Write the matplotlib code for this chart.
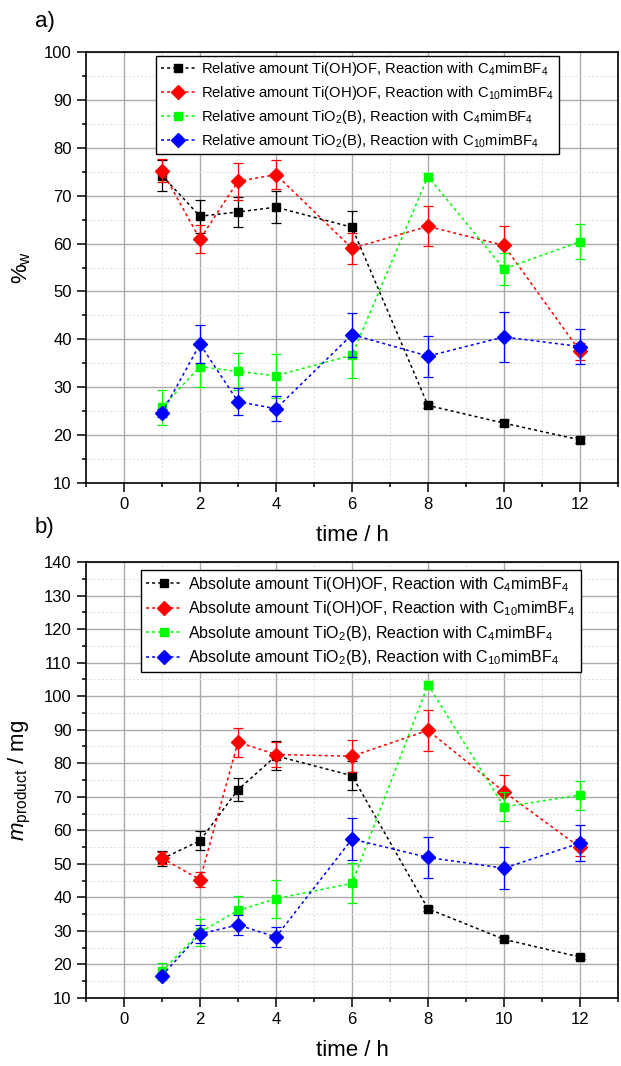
import numpy as np
import matplotlib
matplotlib.use("Agg")
import matplotlib.pyplot as plt
from matplotlib.ticker import MultipleLocator

plt.rcParams.update({"font.family": "Liberation Sans", "font.size": 12,
                     "mathtext.fontset": "custom",
                     "mathtext.rm": "Liberation Sans",
                     "mathtext.it": "Liberation Sans:italic",
                     "mathtext.bf": "Liberation Sans:bold"})

# time points (h)
time_h = [1, 2, 3, 4, 6, 8, 10, 12]

# panel a) relative amount, %w
rel_tiohof_c4 = [74.2, 65.7, 66.6, 67.6, 63.4, 26.2, 22.5, 19.0]
rel_tiohof_c4_err = [3.3, 3.4, 3.1, 3.4, 3.5, 0.6, 0.6, 0.6]
rel_tiohof_c10 = [75.2, 60.9, 73.0, 74.4, 59.0, 63.6, 59.6, 37.5]
rel_tiohof_c10_err = [2.4, 2.9, 3.9, 3.0, 3.2, 4.2, 4.1, 1.8]
rel_tio2b_c4 = [25.8, 34.3, 33.3, 32.4, 36.7, 74.0, 54.7, 60.4]
rel_tio2b_c4_err = [3.6, 4.2, 3.9, 4.6, 4.7, 0.8, 3.4, 3.7]
rel_tio2b_c10 = [24.6, 39.0, 27.0, 25.5, 41.0, 36.5, 40.5, 38.5]
rel_tio2b_c10_err = [0.8, 3.9, 2.8, 2.6, 4.6, 4.3, 5.3, 3.7]

# panel b) absolute amount, mg
abs_tiohof_c4 = [51.5, 56.9, 72.1, 82.2, 76.3, 36.6, 27.5, 22.2]
abs_tiohof_c4_err = [2.2, 2.9, 3.4, 4.3, 4.3, 0.6, 0.6, 0.6]
abs_tiohof_c10 = [51.7, 45.3, 86.3, 82.6, 82.1, 89.8, 71.5, 54.9]
abs_tiohof_c10_err = [1.8, 2.2, 4.3, 3.6, 4.8, 6.2, 5.0, 2.6]
abs_tio2b_c4 = [18.0, 29.6, 36.1, 39.6, 44.2, 103.4, 67.0, 70.5]
abs_tio2b_c4_err = [2.5, 4.1, 4.3, 5.6, 6.0, 1.0, 4.3, 4.3]
abs_tio2b_c10 = [16.7, 29.1, 31.8, 28.2, 57.4, 51.9, 48.7, 56.2]
abs_tio2b_c10_err = [0.8, 2.8, 2.9, 3.1, 6.4, 6.2, 6.3, 5.4]

labels_rel = [r"Relative amount Ti(OH)OF, Reaction with C$_4$mimBF$_4$",
              r"Relative amount Ti(OH)OF, Reaction with C$_{10}$mimBF$_4$",
              r"Relative amount TiO$_2$(B), Reaction with C$_4$mimBF$_4$",
              r"Relative amount TiO$_2$(B), Reaction with C$_{10}$mimBF$_4$"]
labels_abs = [r"Absolute amount Ti(OH)OF, Reaction with C$_4$mimBF$_4$",
              r"Absolute amount Ti(OH)OF, Reaction with C$_{10}$mimBF$_4$",
              r"Absolute amount TiO$_2$(B), Reaction with C$_4$mimBF$_4$",
              r"Absolute amount TiO$_2$(B), Reaction with C$_{10}$mimBF$_4$"]

COLORS = ["#000000", "#ff0000", "#00ff00", "#0000ff"]
MARKERS = ["s", "D", "s", "D"]
MSIZE = [6.2, 6.8, 6.2, 6.8]


def style_axes(ax, ylim, ymajor, yminor):
    ax.set_xlim(-1, 13)
    ax.set_ylim(*ylim)
    ax.xaxis.set_major_locator(MultipleLocator(2))
    ax.xaxis.set_minor_locator(MultipleLocator(1))
    ax.yaxis.set_major_locator(MultipleLocator(ymajor))
    ax.yaxis.set_minor_locator(MultipleLocator(yminor))
    ax.grid(True, which="major", color="#ababab", lw=1.0, zorder=0)
    ax.grid(True, which="minor", color="#dcdcdc", lw=0.7, ls=(0, (2, 2)), zorder=0)
    ax.set_axisbelow(True)
    ax.tick_params(which="major", direction="out", length=6.3, width=1.1,
                   labelsize=12, top=False, right=False)
    ax.tick_params(which="minor", direction="out", length=3.1, width=1.1,
                   top=False, right=False)
    ax.tick_params(axis="y", pad=4)
    ax.tick_params(axis="x", pad=4)
    for s in ax.spines.values():
        s.set_linewidth(1.2)
    ax.set_xlabel("time / h", fontsize=16, labelpad=9)


def draw(ax, series, errs, labels):
    for i, (y, e, lab) in enumerate(zip(series, errs, labels)):
        z = 3 + i * 0.1
        ax.errorbar(time_h, y, yerr=e, fmt="none", ecolor=COLORS[i],
                    elinewidth=0.9, capsize=3.6, capthick=0.9, zorder=z)
        ax.plot(time_h, y, ls=(0, (2, 2)), lw=1.1, color=COLORS[i],
                marker=MARKERS[i], ms=MSIZE[i], mfc=COLORS[i], mec=COLORS[i],
                label=lab, zorder=z + 0.05)


fig = plt.figure(figsize=(6.21, 10.66), dpi=100)

ax1 = fig.add_axes([86 / 621, 1 - 483 / 1066, 532 / 621, 431 / 1066])
style_axes(ax1, (10, 100), 10, 5)
draw(ax1, [rel_tiohof_c4, rel_tiohof_c10, rel_tio2b_c4, rel_tio2b_c10],
     [rel_tiohof_c4_err, rel_tiohof_c10_err, rel_tio2b_c4_err, rel_tio2b_c10_err],
     labels_rel)
ax1.set_ylabel(r"%$_\mathrm{w}$", fontsize=16, labelpad=8)
leg = ax1.legend(loc="upper left", bbox_to_anchor=(0.132, 0.991), fontsize=10.6,
                 frameon=True, fancybox=False, framealpha=1, edgecolor="black",
                 borderaxespad=0, handlelength=2.3, handletextpad=0.45,
                 labelspacing=0.4, borderpad=0.3, numpoints=1)
leg.get_frame().set_linewidth(1.0)

ax2 = fig.add_axes([86 / 621, 1 - 998 / 1066, 532 / 621, 436 / 1066])
style_axes(ax2, (10, 140), 10, 5)
draw(ax2, [abs_tiohof_c4, abs_tiohof_c10, abs_tio2b_c4, abs_tio2b_c10],
     [abs_tiohof_c4_err, abs_tiohof_c10_err, abs_tio2b_c4_err, abs_tio2b_c10_err],
     labels_abs)
ax2.set_ylabel(r"$m_\mathrm{product}$ / mg", fontsize=16, labelpad=8)
leg = ax2.legend(loc="upper left", bbox_to_anchor=(0.104, 0.982), fontsize=11.5,
                 frameon=True, fancybox=False, framealpha=1, edgecolor="black",
                 borderaxespad=0, handlelength=2.2, handletextpad=0.45,
                 labelspacing=0.35, borderpad=0.3, numpoints=1)
leg.get_frame().set_linewidth(1.0)

fig.text(35 / 621, 1 - 22 / 1066, "a)", fontsize=16, ha="left", va="center")
fig.text(35 / 621, 1 - 527 / 1066, "b)", fontsize=16, ha="left", va="center")

fig.savefig("out.png", dpi=100)
